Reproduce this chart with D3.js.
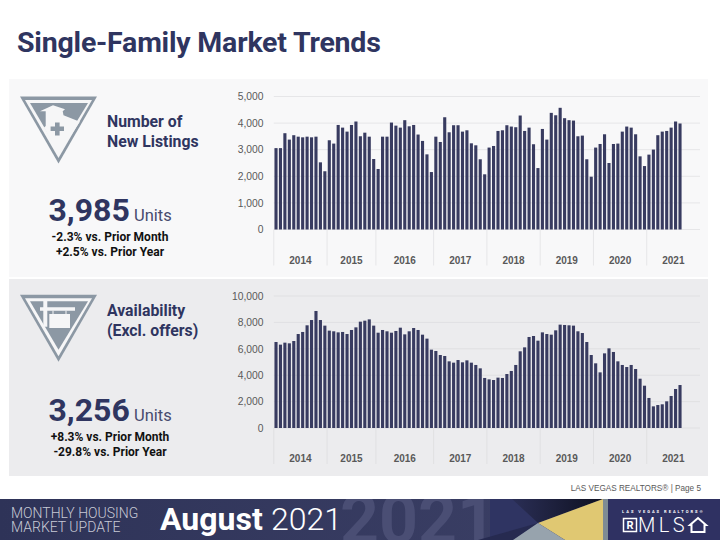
<!DOCTYPE html>
<html><head><meta charset="utf-8">
<script src="https://cdn.jsdelivr.net/npm/d3@7"></script>
<style>html,body{margin:0;padding:0;background:#fff}svg{display:block}</style></head>
<body><div id="chart"></div>
<script>
const yearLabels = ["2014","2015","2016","2017","2018","2019","2020","2021"];
const yearStartSlots = [0,12,23,36,48,60,72,84,96];
const listings = [3060,3060,3620,3380,3545,3490,3465,3490,3465,3490,2525,2190,
 3355,3230,3930,3830,3680,3930,4060,3505,3640,3490,2650,2275,
 3490,3490,4020,3905,3830,4110,3880,3930,3570,3330,2825,2160,
 3490,3290,4220,3655,3920,3920,3680,3730,3240,3165,2640,2075,
 3080,3140,3705,3730,3920,3870,3845,4285,3705,3830,3205,2310,
 3780,3380,4385,4295,4575,4185,4110,4095,3505,3530,2640,1985,
 3080,3215,3580,2500,3215,3230,3680,3870,3830,3580,2750,2385,
 2815,3005,3545,3680,3705,3830,4060,3985];
const availability = [6515,6315,6465,6415,6590,7120,7275,7780,8180,8865,8180,7755,
 7375,7325,7245,7275,7120,7425,7625,8055,8130,8230,7755,7220,
 7425,7325,7220,7350,7600,7095,7325,7575,7425,7070,6770,5935,
 5835,5530,5455,5050,4950,5150,4975,5125,4950,4775,4520,3790,
 3685,3635,3815,3790,4090,4320,4775,5810,6110,6895,6970,6615,
 7245,7120,7070,7400,7830,7805,7780,7755,7325,7195,6515,5530,
 4900,4215,5655,6035,5760,5050,4775,4620,4775,4470,3735,3205,
 2275,1640,1740,1795,2020,2425,2955,3256];
const listingTicks = [0,1000,2000,3000,4000,5000];
const availabilityTicks = [0,2000,4000,6000,8000,10000];
const NAVY = "#2f3560", BADGE = "#8c98a4", BADGE_LIGHT = "#f6f6f7";
const svg = d3.select("#chart").append("svg").attr("width",720).attr("height",540)
  .style("font-family","Roboto, sans-serif");
const defs = svg.append("defs");
const fg = defs.append("linearGradient").attr("id","foot").attr("x1",0).attr("x2",1).attr("y1",0).attr("y2",0);
fg.append("stop").attr("offset",0).attr("stop-color","#2e3358");
fg.append("stop").attr("offset",1).attr("stop-color","#3e4268");
const dg = defs.append("linearGradient").attr("id","darkTip").attr("x1",0).attr("x2",1).attr("y1",0).attr("y2",0);
dg.append("stop").attr("offset",0).attr("stop-color","#2a2e55");
dg.append("stop").attr("offset",1).attr("stop-color","#0e1020");
defs.append("clipPath").attr("id","footClip").append("rect").attr("x",0).attr("y",499).attr("width",490).attr("height",41);
svg.append("rect").attr("width",720).attr("height",540).attr("fill","#fff");

svg.append("text").attr("x",17).attr("y",52).attr("font-size",28.5).attr("font-weight",700)
  .attr("fill",NAVY).attr("letter-spacing",-0.2).text("Single-Family Market Trends");

function panel(cfg){
  const g = svg.append("g");
  g.append("rect").attr("x",9).attr("y",cfg.top).attr("width",699).attr("height",cfg.h).attr("fill",cfg.bg);
  const slots = d3.range(96);
  const x = d3.scaleBand().domain(slots).range([273.8,700]).paddingInner(0.3).paddingOuter(0.15);
  const y = d3.scaleLinear().domain([0,cfg.max]).range([cfg.y0,cfg.y1]);
  const axis = d3.axisLeft(y).tickValues(cfg.ticks).tickFormat(d3.format(",")).tickSize(0).tickPadding(0);
  const ag = g.append("g").attr("transform","translate(263.5,0)").call(axis);
  ag.select(".domain").remove();
  ag.selectAll("text").attr("font-family","'Liberation Sans', Arial, sans-serif").attr("font-size",10.3).attr("fill","#595959");
  g.append("g").selectAll("line").data(cfg.ticks).join("line")
    .attr("x1",273.8).attr("x2",700).attr("y1",d=>y(d)).attr("y2",d=>y(d))
    .attr("stroke",cfg.grid).attr("stroke-width",1);
  g.append("g").selectAll("line").data(yearStartSlots.slice(0,-1)).join("line")
    .attr("x1",d=>273.8+d*x.step()).attr("x2",d=>273.8+d*x.step())
    .attr("y1",cfg.y0).attr("y2",cfg.y0+36).attr("stroke",cfg.grid).attr("stroke-width",1);
  g.append("g").selectAll("rect").data(cfg.values).join("rect")
    .attr("x",(d,i)=>x(i)).attr("width",x.bandwidth()).attr("y",d=>y(d)).attr("height",d=>y(0)-y(d)).attr("fill","#383b60");
  g.append("g").selectAll("text").data(yearLabels).join("text")
    .attr("x",(d,i)=>273.8+(yearStartSlots[i]+yearStartSlots[i+1])/2*x.step())
    .attr("y",cfg.y0+34).attr("text-anchor","middle").attr("font-family","'Liberation Sans', Arial, sans-serif")
    .attr("font-size",10).attr("font-weight",700).attr("fill","#595959").text(d=>d);
  cfg.title.forEach((t,i)=>g.append("text").attr("x",107).attr("y",cfg.titleY+i*19.5).attr("font-size",15.8).attr("font-weight",700).attr("fill",NAVY).text(t));
  g.append("text").attr("x",48.5).attr("y",cfg.bigY).attr("font-size",32).attr("font-weight",700).attr("fill",NAVY).text(cfg.big);
  g.append("text").attr("x",134).attr("y",cfg.bigY).attr("font-size",16.5).attr("fill","#474b6e").text("Units");
  cfg.notes.forEach((t,i)=>g.append("text").attr("x",110).attr("y",cfg.bigY+20+i*14.5).attr("text-anchor","middle").attr("font-size",12).attr("font-weight",700).attr("fill","#111").text(t));
  const b = g.append("g").attr("transform",`translate(20,${cfg.badgeY})`);
  b.append("path").attr("d","M0,0H77L38.5,67Z").attr("fill",BADGE);
  b.append("path").attr("d","M5,3.5H72L38.5,61.5Z").attr("fill",BADGE_LIGHT);
  b.append("path").attr("d","M10,6.5H68L38.5,55Z").attr("fill",BADGE);
  cfg.icon(b);
}
panel({top:79,h:198,bg:"#f8f8f9",grid:"#e6e6e8",y0:229.5,y1:96.5,max:5000,ticks:listingTicks,values:listings,badgeY:96.5,
  title:["Number of","New Listings"],titleY:127,big:"3,985",bigY:221,notes:["-2.3% vs. Prior Month","+2.5% vs. Prior Year"],
  icon:b=>{
    b.append("path").attr("d","M20,14.8L33,8.8L45,12.8L42.7,14.8L43.5,18.8L56.7,24L60,25L38.5,58L24,31L25.7,29.5V14.8Z").attr("fill",BADGE_LIGHT);
    b.append("path").attr("d","M35,26h4.6v4h4.4v4.6h-4.4v4.4h-4.6v-4.4h-4.4v-4.6h4.4Z").attr("fill",BADGE);
  }});
panel({top:279,h:197,bg:"#ececee",grid:"#e0e0e2",y0:428,y1:296,max:10000,ticks:availabilityTicks,values:availability,badgeY:294.7,
  title:["Availability","(Excl. offers)"],titleY:316,big:"3,256",bigY:421,notes:["+8.3% vs. Prior Month","-29.8% vs. Prior Year"],
  icon:b=>{
    b.append("path").attr("d","M20,12.6H23.3V6H27.3V12.6H55V16H27.3V32H23.3V16H20Z").attr("fill",BADGE_LIGHT);
    b.append("path").attr("d","M33,16V19.3M46,16V19.3").attr("stroke",BADGE_LIGHT).attr("stroke-width",1);
    b.append("rect").attr("x",29.3).attr("y",19.3).attr("width",20.7).attr("height",14).attr("fill",BADGE_LIGHT);
  }});

svg.append("text").attr("x",701).attr("y",491).attr("text-anchor","end").attr("font-family","'Liberation Sans', Arial, sans-serif")
  .attr("font-size",8.2).attr("fill","#595959").text("LAS VEGAS REALTORS® | Page 5");

const f = svg.append("g");
f.append("rect").attr("y",499).attr("width",720).attr("height",41).attr("fill","url(#foot)");
f.append("text").attr("x",340).attr("y",543).attr("font-size",68).attr("font-weight",700).attr("fill","#4a4e74").attr("clip-path","url(#footClip)").text("2021");
f.append("rect").attr("x",490).attr("y",499).attr("width",113).attr("height",41).attr("fill","#2f3462");
f.append("path").attr("d","M512,499H603L538,523Z").attr("fill","url(#darkTip)");
f.append("path").attr("d","M538,523L513,540H478Z").attr("fill","#262a50");
f.append("path").attr("d","M538,523L603,499V540H565Z").attr("fill","#e0c872");
f.append("path").attr("d","M538,523L565,540H513Z").attr("fill","#97a3ad");
f.append("rect").attr("x",603).attr("y",499).attr("width",5).attr("height",41).attr("fill","#7f8c94");
f.append("rect").attr("x",608).attr("y",499).attr("width",112).attr("height",41).attr("fill","#2f3162");
const upd = f.append("text").attr("font-size",14).attr("font-weight",300).attr("fill","#c8cad6");
upd.append("tspan").attr("x",11).attr("y",518).text("MONTHLY HOUSING");
upd.append("tspan").attr("x",11).attr("y",532).text("MARKET UPDATE");
f.append("text").attr("x",160).attr("y",530).attr("font-size",32).attr("font-weight",700).attr("fill","#fff").text("August");
f.append("text").attr("x",271).attr("y",530).attr("font-size",32).attr("font-weight",300).attr("fill","#fff").text("2021");
f.append("text").attr("x",622).attr("y",513).attr("font-size",4).attr("font-weight",700).attr("letter-spacing",2).attr("fill","#fff").text("LAS VEGAS REALTORS®");
f.append("rect").attr("x",623.5).attr("y",518.5).attr("width",13).attr("height",13).attr("fill","none").attr("stroke","#fff").attr("stroke-width",1.5);
f.append("text").attr("x",630).attr("y",529).attr("text-anchor","middle").attr("font-size",11).attr("font-weight",700).attr("fill","#fff").text("R");
f.append("text").attr("x",638).attr("y",532).attr("font-size",20).attr("font-weight",300).attr("letter-spacing",3.4).attr("fill","#fff").text("MLS");
f.append("path").attr("d","M690,525L698,518L706,525H704.5V532H691.5V525Z").attr("fill","none").attr("stroke","#fff").attr("stroke-width",2);
</script></body></html>
